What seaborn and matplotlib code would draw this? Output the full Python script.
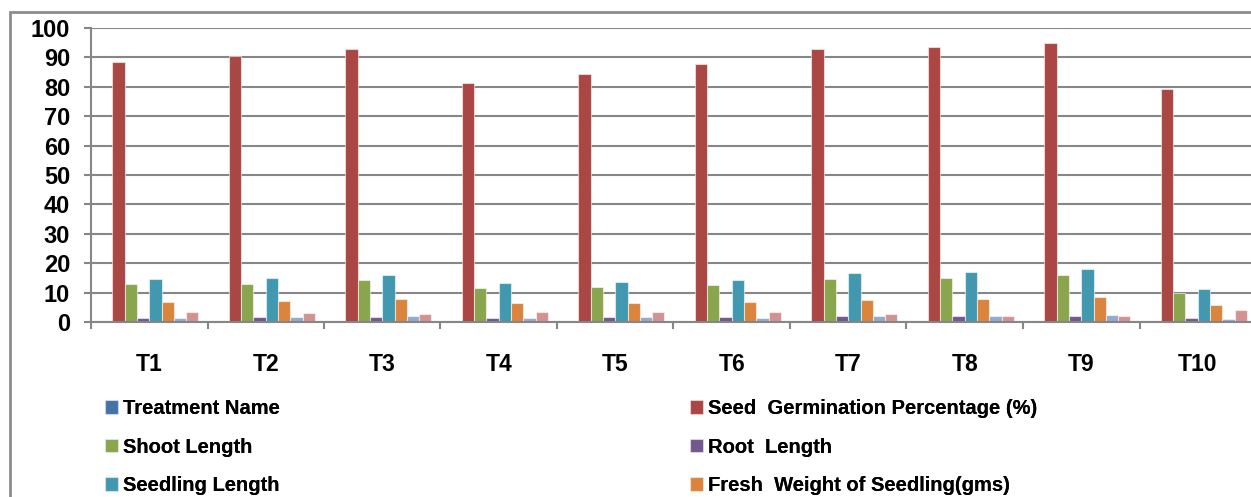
import matplotlib
matplotlib.use("Agg")
import matplotlib.pyplot as plt
from matplotlib.patches import Rectangle
import seaborn as sns
import pandas as pd
import numpy as np

treatments = ["T1", "T2", "T3", "T4", "T5", "T6", "T7", "T8", "T9", "T10"]
series_names = [
    "Treatment Name",
    "Seed  Germination Percentage (%)",
    "Shoot Length",
    "Root  Length",
    "Seedling Length",
    "Fresh  Weight of Seedling(gms)",
    "Vigour Index",
    "Dry Weight of Seedling(gms)",
]
treatment_name = [0, 0, 0, 0, 0, 0, 0, 0, 0, 0]
germination = [88.3, 90.4, 92.8, 81.2, 84.2, 87.6, 93.0, 93.4, 94.9, 79.1]
shoot_length = [12.8, 13.0, 14.3, 11.7, 11.9, 12.6, 14.5, 15.0, 15.9, 10.0]
root_length = [1.5, 1.7, 1.8, 1.5, 1.6, 1.6, 2.0, 2.0, 2.2, 1.3]
seedling_length = [14.5, 14.9, 16.1, 13.3, 13.5, 14.2, 16.5, 17.1, 18.1, 11.2]
fresh_weight = [6.7, 7.2, 7.9, 6.4, 6.4, 6.7, 7.4, 7.9, 8.5, 5.9]
light_series = [1.5, 1.7, 2.1, 1.5, 1.6, 1.5, 2.0, 2.0, 2.3, 1.1]
pink_series = [3.4, 2.9, 2.7, 3.5, 3.3, 3.4, 2.8, 2.2, 2.1, 4.0]

colors = ["#4572A7", "#AA4643", "#89A54E", "#71588F", "#4198AF", "#DB843D", "#93A9CF", "#D19392"]

all_vals = [treatment_name, germination, shoot_length, root_length,
            seedling_length, fresh_weight, light_series, pink_series]
rows = []
for name, vals in zip(series_names, all_vals):
    for t, v in zip(treatments, vals):
        rows.append({"Treatment": t, "Series": name, "Value": v})
df = pd.DataFrame(rows)

sns.set_style("white")
plt.rcParams["font.family"] = ["Liberation Sans", "DejaVu Sans"]
plt.rcParams["text.color"] = "black"
plt.rcParams["xtick.labelcolor"] = "black"
plt.rcParams["ytick.labelcolor"] = "black"

W, H = 1251, 497
fig = plt.figure(figsize=(W / 100, H / 100), dpi=100)
ax = fig.add_axes([91 / W, (H - 322) / H, 1165 / W, 294 / H])

sns.barplot(data=df, x="Treatment", y="Value", hue="Series", order=treatments,
            hue_order=series_names, palette=colors, width=0.845, ax=ax,
            edgecolor=(1, 1, 1, 0.55), linewidth=0.8, saturation=1, errorbar=None)

ax.set_ylim(0, 100)
ax.set_xlim(-0.5, 9.5)
ax.set_yticks(np.arange(0, 101, 10))
ax.yaxis.grid(True, color="#868686", linewidth=1.5)
ax.set_axisbelow(True)
for s in ["top", "right"]:
    ax.spines[s].set_visible(False)
for s in ["left", "bottom"]:
    ax.spines[s].set_color("#868686")
    ax.spines[s].set_linewidth(1.5)
ax.set_xlabel("")
ax.set_ylabel("")

ax.tick_params(axis="y", which="major", length=5, width=1.5, color="#868686",
               pad=10, labelsize=17, left=True)
for lab in ax.get_yticklabels():
    lab.set_fontweight("bold")

ax.set_xticks(np.arange(len(treatments)))
ax.set_xticklabels(treatments, fontsize=16.5, fontweight="bold")
ax.tick_params(axis="x", which="major", length=0, pad=22)
ax.set_xticks(np.arange(-0.5, len(treatments), 1), minor=True)
ax.tick_params(axis="x", which="minor", length=5, width=1.5, color="#868686", bottom=True)

handles, labels = ax.get_legend_handles_labels()
ax.get_legend().remove()
fs = 14.5
leg_kw = dict(loc="upper left", ncol=1, frameon=False, borderpad=0, borderaxespad=0,
              prop={"weight": "bold", "size": fs},
              handlelength=0.65, handleheight=0.65, handletextpad=0.25,
              labelspacing=0.97)
top = (H - 399) / H
for idxs, x0 in (([0, 2, 4, 6], 105), ([1, 3, 5, 7], 690)):
    lg = fig.legend([handles[i] for i in idxs], [labels[i] for i in idxs],
                    bbox_to_anchor=(x0 / W, top), **leg_kw)
    fig.add_artist(lg)

fig.add_artist(Rectangle((10 / W, -0.05), 1.2, (H - 12) / H + 0.05,
                         transform=fig.transFigure, fill=False,
                         edgecolor="#8c8c8c", linewidth=2))

fig.savefig("out.png", dpi=100)
